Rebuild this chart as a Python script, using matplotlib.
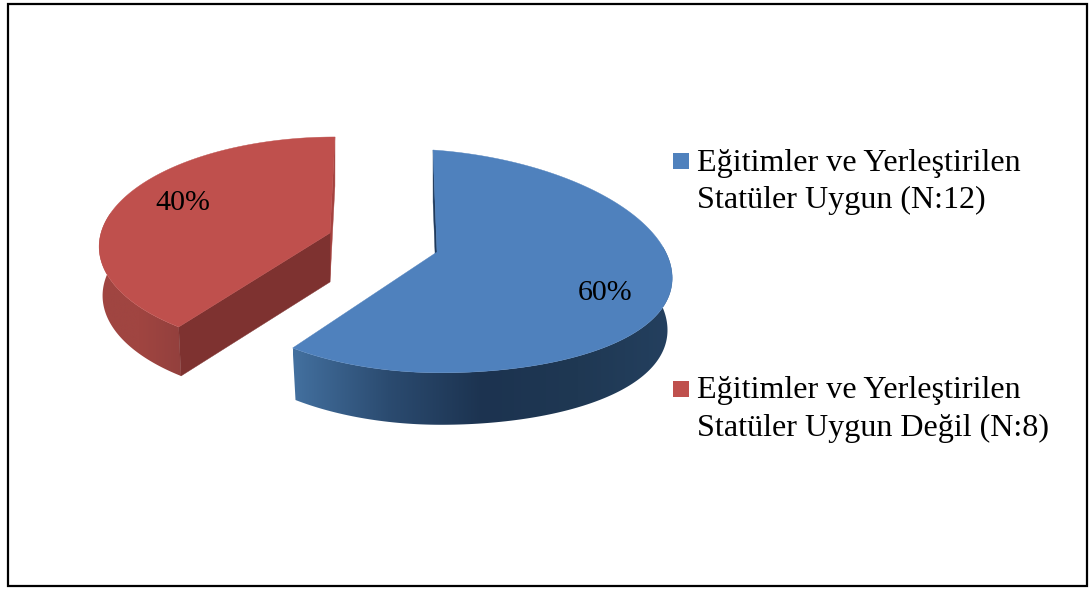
import numpy as np
import matplotlib
matplotlib.use('Agg')
import matplotlib.pyplot as plt
from matplotlib.colors import LinearSegmentedColormap
from matplotlib.patches import Polygon, Rectangle

# Datos
etiquetas_1 = ['Eğitimler ve Yerleştirilen', 'Eğitimler ve Yerleştirilen']
etiquetas_2 = ['Statüler Uygun (N:12)', 'Statüler Uygun Değil (N:8)']
valores = [12, 8]

# Colores
AZUL = '#4f81bd'
ROJO = '#bf504d'
AZUL_OSCURO = '#1f3a5c'
ROJO_CORTE = '#7e3230'
ROJO_TIRA = '#a5423f'
rampa_azul = ['#43709f', '#2b4b70', '#1c3350', '#1f3853', '#24405f']
rampa_roja = ['#a04541', '#a04541', '#93403d']

# Geometria de cada porcion (proyeccion en perspectiva del disco)
GEO_AZUL = dict(cx=437, cy=252, rx=234, ry=110.6, k=0.0843, s=-4, c=15, prof=52, esc=0.98)
GEO_ROJO = dict(cx=330, cy=233, rx=229, ry=106.2, k=0.106, s=5, c=0, prof=49, esc=0.985)


def borde(theta, g, abajo=False):
    u, v = np.sin(theta), np.cos(theta)
    w = 1 + g['k'] * v
    x = g['rx'] * u / w + g['s'] * v
    y = g['cy'] - g['ry'] * v / w
    # el lado derecho del disco cae un poco
    caida = np.where(v > 0, u, u ** 2)
    y = y + g['c'] * np.where(u > 0, caida, 0)
    if abajo:
        x = x * g['esc']
        y = y + g['prof']
    return g['cx'] + x, y


def poligono(ax, xs, ys, color, z):
    ax.add_patch(Polygon(np.column_stack([xs, ys]), closed=True, facecolor=color,
                         edgecolor=color, linewidth=0.3, zorder=z))


def dibujar_porcion(ax, ini, fin, g, color, rampa, color_atras, color_corte):
    t = np.linspace(ini, fin, 200)

    # cara trasera (theta = 0 o 2pi)
    t0 = np.array([0.0])
    xa, ya = borde(t0, g)
    xb, yb = borde(t0, g, abajo=True)
    poligono(ax, [g['cx'], g['cx'], xb[0], xa[0]],
             [g['cy'], g['cy'] + g['prof'], yb[0], ya[0]], color_atras, 2)

    # lateral con degradado
    tv = t[np.cos(t) < 0.2]
    xs, ys = borde(tv, g)
    xi, yi = borde(tv, g, abajo=True)
    px = np.concatenate([xs, xi[::-1]])
    py = np.concatenate([ys, yi[::-1]])
    cmap = LinearSegmentedColormap.from_list('lado', rampa)
    img = ax.imshow(np.linspace(0, 1, 256).reshape(1, -1), cmap=cmap, aspect='auto',
                    extent=[px.min(), px.max(), py.max(), py.min()], zorder=3)
    clip = Polygon(np.column_stack([px, py]), closed=True, transform=ax.transData,
                   facecolor='none', edgecolor='none')
    ax.add_patch(clip)
    img.set_clip_path(clip)

    # cara de corte frontal
    if color_corte is not None:
        xa, ya = borde(np.array([t_corte]), g)
        xb, yb = borde(np.array([t_corte]), g, abajo=True)
        poligono(ax, [g['cx'], xa[0], xb[0], g['cx']],
                 [g['cy'], ya[0], yb[0], g['cy'] + g['prof']], color_corte, 4)

    # cara superior
    xs, ys = borde(t, g)
    poligono(ax, np.r_[g['cx'], xs], np.r_[g['cy'], ys], color, 5)


fig = plt.figure(figsize=(10.9, 5.9), dpi=100)
ax = fig.add_axes([0, 0, 1, 1])

total = sum(valores)
t_corte = 2 * np.pi * valores[0] / total

dibujar_porcion(ax, 0, t_corte, GEO_AZUL, AZUL, rampa_azul, AZUL_OSCURO, None)
dibujar_porcion(ax, t_corte, 2 * np.pi, GEO_ROJO, ROJO, rampa_roja, ROJO_TIRA, ROJO_CORTE)

ax.set_xlim(0, 1090)
ax.set_ylim(590, 0)
ax.axis('off')

# Marco
ax.add_patch(Rectangle((8, 4), 1079, 582, fill=False, edgecolor='black', linewidth=1.6, zorder=10))

fuente = {'family': 'Liberation Serif', 'color': 'black'}

# Porcentajes
pos_pct = [(578, 300), (155, 210)]
for val, (x, y) in zip(valores, pos_pct):
    ax.text(x, y, f'{round(100 * val / total)}%', ha='left', va='baseline', zorder=8,
            size=21.6, **fuente)

# Leyenda
pos_ley = [(153, 171, 208), (381, 398, 436)]
for i, (yc, y1, y2) in enumerate(pos_ley):
    ax.add_patch(Rectangle((673, yc), 16, 16, facecolor=[AZUL, ROJO][i], edgecolor='none', zorder=8))
    ax.text(697, y1, etiquetas_1[i], ha='left', va='baseline', zorder=8, size=23.1, **fuente)
    ax.text(697, y2, etiquetas_2[i], ha='left', va='baseline', zorder=8, size=23.1, **fuente)

fig.savefig('out.png', dpi=100, facecolor='white')
